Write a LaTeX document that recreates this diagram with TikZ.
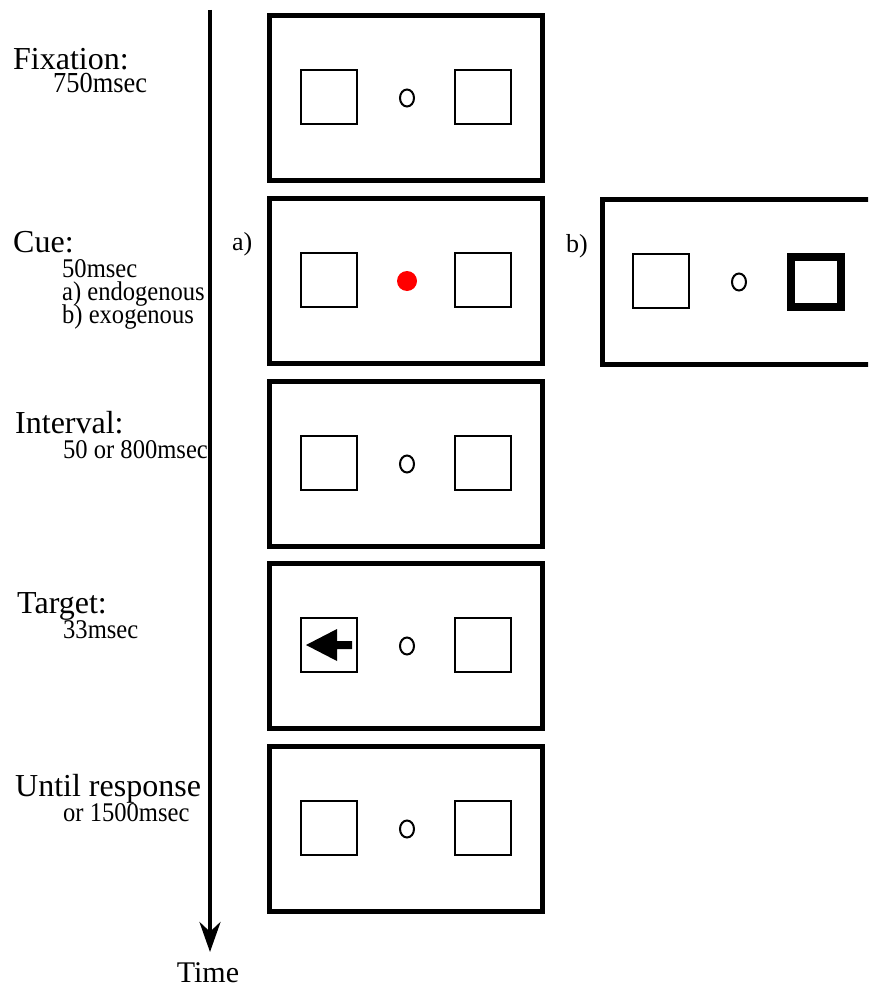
\documentclass[tikz,border=0pt]{standalone}
\usepackage{fontspec}
\setmainfont{Liberation Serif}
\newfontfamily\subfont[FakeStretch=0.91]{Liberation Serif}
\usetikzlibrary{arrows.meta,shapes.geometric,calc}

\begin{document}
\begin{tikzpicture}[x=1pt,y=-1pt,
  frame/.style={draw,line width=5pt,minimum width=273pt,minimum height=165pt,inner sep=0pt,outer sep=0pt},
  sq/.style={draw,line width=2.8pt,minimum width=56pt,minimum height=54pt,inner sep=0pt},
  thicksq/.style={draw,line width=8pt,minimum width=50pt,minimum height=50pt,inner sep=0pt},
  fixpt/.style={draw,ellipse,line width=2pt,minimum width=14pt,minimum height=17pt,inner sep=0pt},
  cuedot/.style={circle,fill=red,minimum size=20pt,inner sep=0pt},
  head/.style={anchor=base west,inner sep=0pt,font=\fontsize{32}{36}\selectfont},
  sub/.style={anchor=base west,inner sep=0pt,font=\subfont\fontsize{27}{30}\selectfont},
  lab/.style={anchor=base west,inner sep=0pt,font=\fontsize{26}{30}\selectfont},
]
\clip (0,0) rectangle (868,987);
\fill[white] (0,0) rectangle (868,987);

% time axis
\coordinate (ttop) at (210,10);
\coordinate (ttip) at (210,952);
\draw[line width=4pt,-{Stealth[length=30pt,width=21pt]}] (ttop) -- (ttip);
\node[anchor=base,inner sep=0pt,font=\fontsize{30}{34}\selectfont] (time) at (208,982) {Time};

% frames
\foreach \i/\y in {1/98,2/281,3/464,4/646,5/829}{
  \node[frame] (f\i) at (406,\y) {};
  \node[sq] (s\i l) at ($(f\i.center)+(-77,-1)$) {};
  \node[sq] (s\i r) at ($(f\i.center)+(77,-1)$) {};
}
\foreach \i in {1,3,4,5}{
  \node[fixpt] (o\i) at ($(f\i.center)+(1,0)$) {};
}
\node[cuedot] (dot) at ($(f2.center)+(1,0)$) {};

% target arrow
\fill[shift={(s4l.center)}] (-23,0) -- (8,-16) -- (8,-4) -- (23,-4) -- (23,4) -- (8,4) -- (8,16) -- cycle;

% exogenous cue frame
\node[frame] (fb) at (739,282) {};
\node[sq] (sbl) at (661,281) {};
\node[fixpt] (ob) at (739,282) {};
\node[thicksq] (sbr) at (816,282) {};

\node[lab] (la) at (232,250) {a)};
\node[lab] (lb) at (566,252) {b)};

% labels
\node[head] (fix) at (13,70) {Fixation:};
\node[sub,font=\subfont\fontsize{29}{30}\selectfont] (fixt) at (53,93) {750msec};
\node[head] (cue) at (13,252) {Cue:};
\node[sub] (cuet) at (62,277) {50msec};
\node[sub] (cuea) at (62,300) {a) endogenous};
\node[sub] (cueb) at (62,323) {b) exogenous};
\node[head] (int) at (15,433) {Interval:};
\node[sub] (intt) at (63,458) {50 or 800msec};
\node[head] (tar) at (17,613) {Target:};
\node[sub] (tart) at (63,638) {33msec};
\node[head] (resp) at (15,796) {Until response};
\node[sub] (respt) at (63,821) {or 1500msec};
\end{tikzpicture}
\end{document}
